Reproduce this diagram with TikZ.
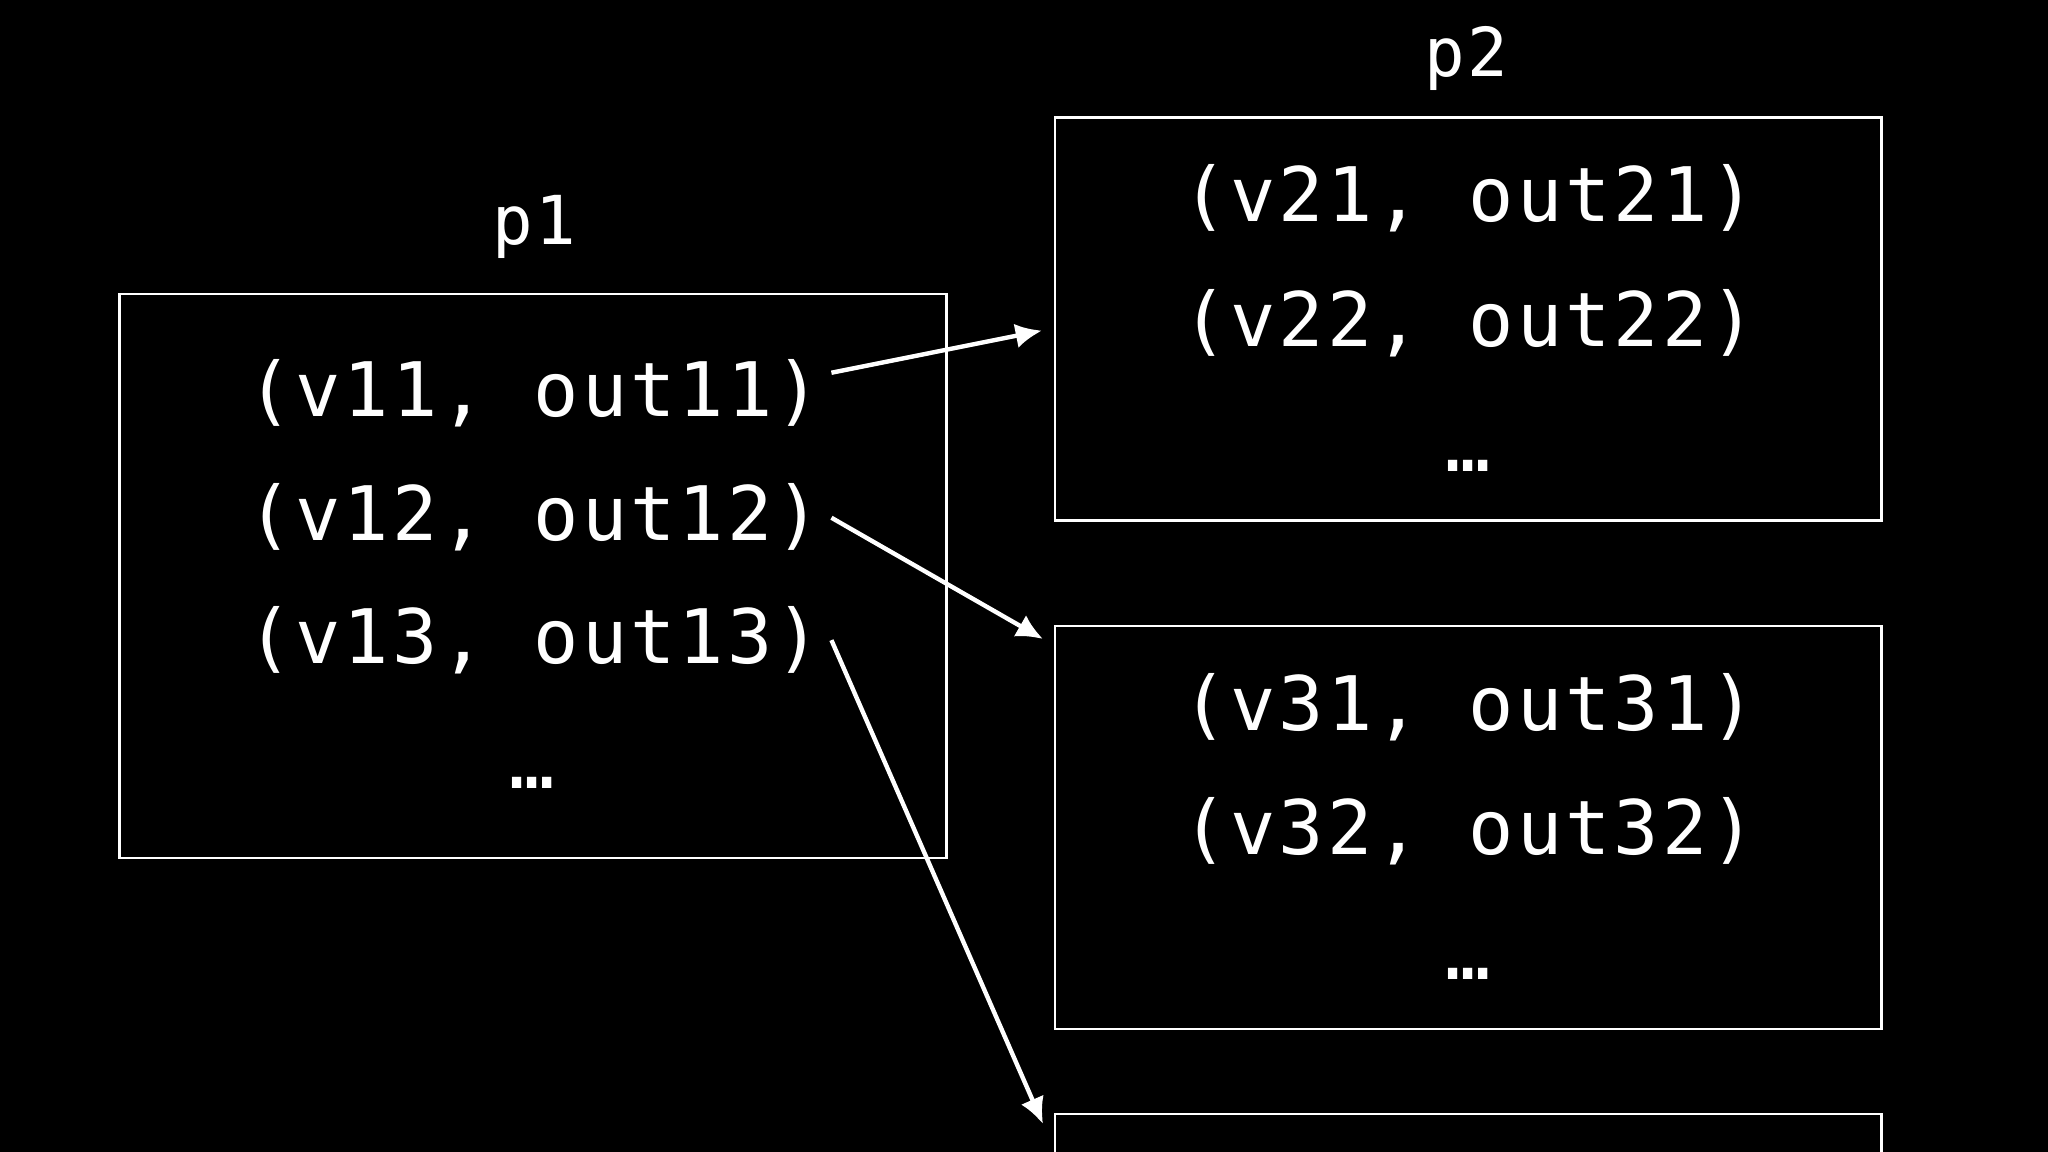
\documentclass[tikz,border=0pt]{standalone}
\usepackage{fontspec}
\newfontfamily\codefont[LetterSpace=4.0]{DejaVu Sans Mono}
\usetikzlibrary{arrows.meta}

\begin{document}
\begin{tikzpicture}

\tikzset{part/.style = {shape=rectangle,draw=white,line width=0.85pt,minimum width=8.26cm,minimum height=4.03cm,inner sep=0pt,outer sep=0pt}}
\tikzset{entry/.style = {text=white,font=\codefont\fontsize{21.4pt}{25pt}\selectfont,anchor=base,inner xsep=0.10cm}}
\tikzset{title/.style = {text=white,font=\codefont\fontsize{19.2pt}{22pt}\selectfont,anchor=base}}
\tikzset{edge/.style = {-{Latex[length=7.5pt,width=7pt]},draw=white,line width=1.25pt}}

% background
\fill[black] (0,0) rectangle (20.48,-11.52);
\useasboundingbox (0,0) rectangle (20.48,-11.52);
\clip (0,0) rectangle (20.48,-11.52);

% partitions
\node[part,minimum width=8.275cm,minimum height=5.64cm] (p1) at (5.33,-5.76) {};
\node[part] (p2) at (14.68,-3.186) {};
\node[part] (p3) at (14.68,-8.275) {};
\node[part] (p4) at (14.68,-13.155) {};

% titles
\node[title] (l1) at (5.34,-2.45) {p1};
\node[title] (l2) at (14.66,-0.765) {p2};

% entries
\node[entry] (r11) at (5.34,-4.17) {(v11, out11)};
\node[entry] (r12) at (5.34,-5.41) {(v12, out12)};
\node[entry] (r13) at (5.34,-6.634) {(v13, out13)};
\node[entry] (d1) at (5.32,-7.89) {…};

\node[entry] (r21) at (14.69,-2.22) {(v21, out21)};
\node[entry] (r22) at (14.69,-3.464) {(v22, out22)};
\node[entry] (d2) at (14.68,-4.71) {…};

\node[entry] (r31) at (14.69,-7.30) {(v31, out31)};
\node[entry] (r32) at (14.69,-8.54) {(v32, out32)};
\node[entry] (d3) at (14.68,-9.79) {…};

%edges
\draw[edge] ([yshift=0.21cm]r11.east) -- ([xshift=-0.13cm,yshift=-0.12cm]p2.west);
\draw[edge] (r12.east) -- ([xshift=-0.12cm,yshift=-0.13cm]p3.north west);
\draw[edge] (r13.east) -- ([xshift=-0.12cm,yshift=-0.10cm]p4.north west);
\end{tikzpicture}
\end{document}
